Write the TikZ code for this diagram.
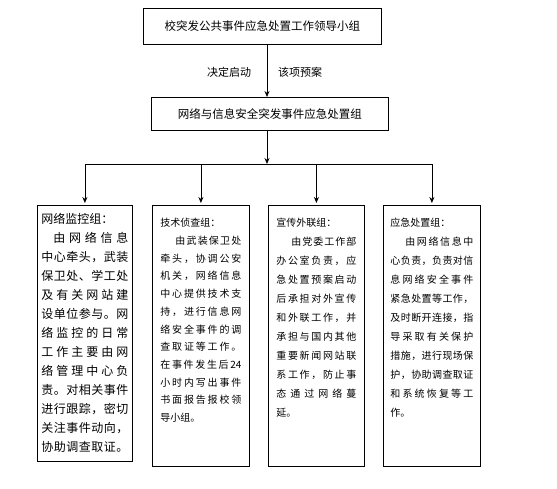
\documentclass[tikz,border=0pt]{standalone}
\usepackage{fontspec}
\setmainfont{Noto Sans CJK SC}
\usetikzlibrary{arrows.meta}
\setlength{\parindent}{0pt}

\makeatletter
% spread the characters of one line over the full width
\newcommand\spreadline[2][0pt]{\hbox to\hsize{\hspace*{#1}\@tfor\sp@c:=#2\do{\sp@c\hfil}\unskip}}
\makeatother

\begin{document}
\begin{tikzpicture}[x=1pt,y=-1pt,
  box/.style={draw,line width=0.8pt,inner sep=0pt,font=\fontsize{11.5}{14}\selectfont},
  grp/.style={draw,line width=0.8pt,anchor=north west,inner ysep=5pt},
  arr/.style={line width=0.8pt,-{Stealth[length=6pt,width=5pt]}}]
\useasboundingbox (0,0) rectangle (557,489);
\node[box,minimum width=238,minimum height=36,anchor=north west] (lead) at (143,8) {校突发公共事件应急处置工作领导小组};
\node[box,minimum width=237,minimum height=33,anchor=north west] (team) at (151,97) {网络与信息安全突发事件应急处置组};
\node[font=\fontsize{11}{13}\selectfont] (start) at (229,72) {决定启动};
\node[font=\fontsize{11}{13}\selectfont] (plan) at (300,72) {该项预案};
\coordinate (split) at (267,164);

\node[grp,inner xsep=4pt] (mon) at (37,205) {\parbox[c][246pt][t]{87pt}{\fontsize{12}{19}\selectfont
  \vspace*{3pt}
  \hbox{网络监控组：}
  \spreadline[1em]{由网络信息}
  \spreadline{中心牵头，武装}
  \spreadline{保卫处、学工处}
  \spreadline{及有关网站建}
  \spreadline{设单位参与。网}
  \spreadline{络监控的日常}
  \spreadline{工作主要由网}
  \spreadline{络管理中心负}
  \spreadline{责。对相关事件}
  \spreadline{进行跟踪，密切}
  \spreadline{关注事件动向，}
  \spreadline{协助调查取证。}}};
\node[grp,inner xsep=8pt] (tech) at (152,205) {\parbox[c][251pt][t]{81pt}{\fontsize{10}{17.7}\selectfont
  \vspace*{8pt}
  \hbox{技术侦查组：}
  \spreadline[1.5em]{由武装保卫处}
  \spreadline{牵头，协调公安}
  \spreadline{机关，网络信息}
  \spreadline{中心提供技术支}
  \spreadline{持，进行信息网}
  \spreadline{络安全事件的调}
  \spreadline{查取证等工作。}
  \spreadline{在事件发生后{24}}
  \spreadline{小时内写出事件}
  \spreadline{书面报告报校领}
  \hbox{导小组。}}};
\node[grp,inner xsep=8pt] (pub) at (268,205) {\parbox[c][251pt][t]{80pt}{\fontsize{10}{19}\selectfont
  \vspace*{8pt}
  \hbox{宣传外联组：}
  \spreadline[1.5em]{由党委工作部}
  \spreadline{办公室负责，应}
  \spreadline{急处置预案启动}
  \spreadline{后承担对外宣传}
  \spreadline{和外联工作，并}
  \spreadline{承担与国内其他}
  \spreadline{重要新闻网站联}
  \spreadline{系工作，防止事}
  \spreadline{态通过网络蔓}
  \hbox{延。}}};
\node[grp,inner xsep=7pt] (resp) at (383,205) {\parbox[c][251pt][t]{83pt}{\fontsize{10}{19}\selectfont
  \vspace*{8pt}
  \hbox{应急处置组：}
  \spreadline[1.5em]{由网络信息中}
  \spreadline{心负责，负责对信}
  \spreadline{息网络安全事件}
  \spreadline{紧急处置等工作，}
  \spreadline{及时断开连接，指}
  \spreadline{导采取有关保护}
  \spreadline{措施，进行现场保}
  \spreadline{护，协助调查取证}
  \spreadline{和系统恢复等工}
  \hbox{作。}}};

\draw[arr] (lead.south -| split) -- (team.north -| split);
\draw[arr] (team.south -| split) -- (split);
\draw[line width=0.8pt] (split -| mon) -- (split -| resp);
\foreach \g in {mon,tech,pub,resp}
  \draw[arr,shorten >=2pt] (split -| \g) -- (\g.north);
\end{tikzpicture}
\end{document}
